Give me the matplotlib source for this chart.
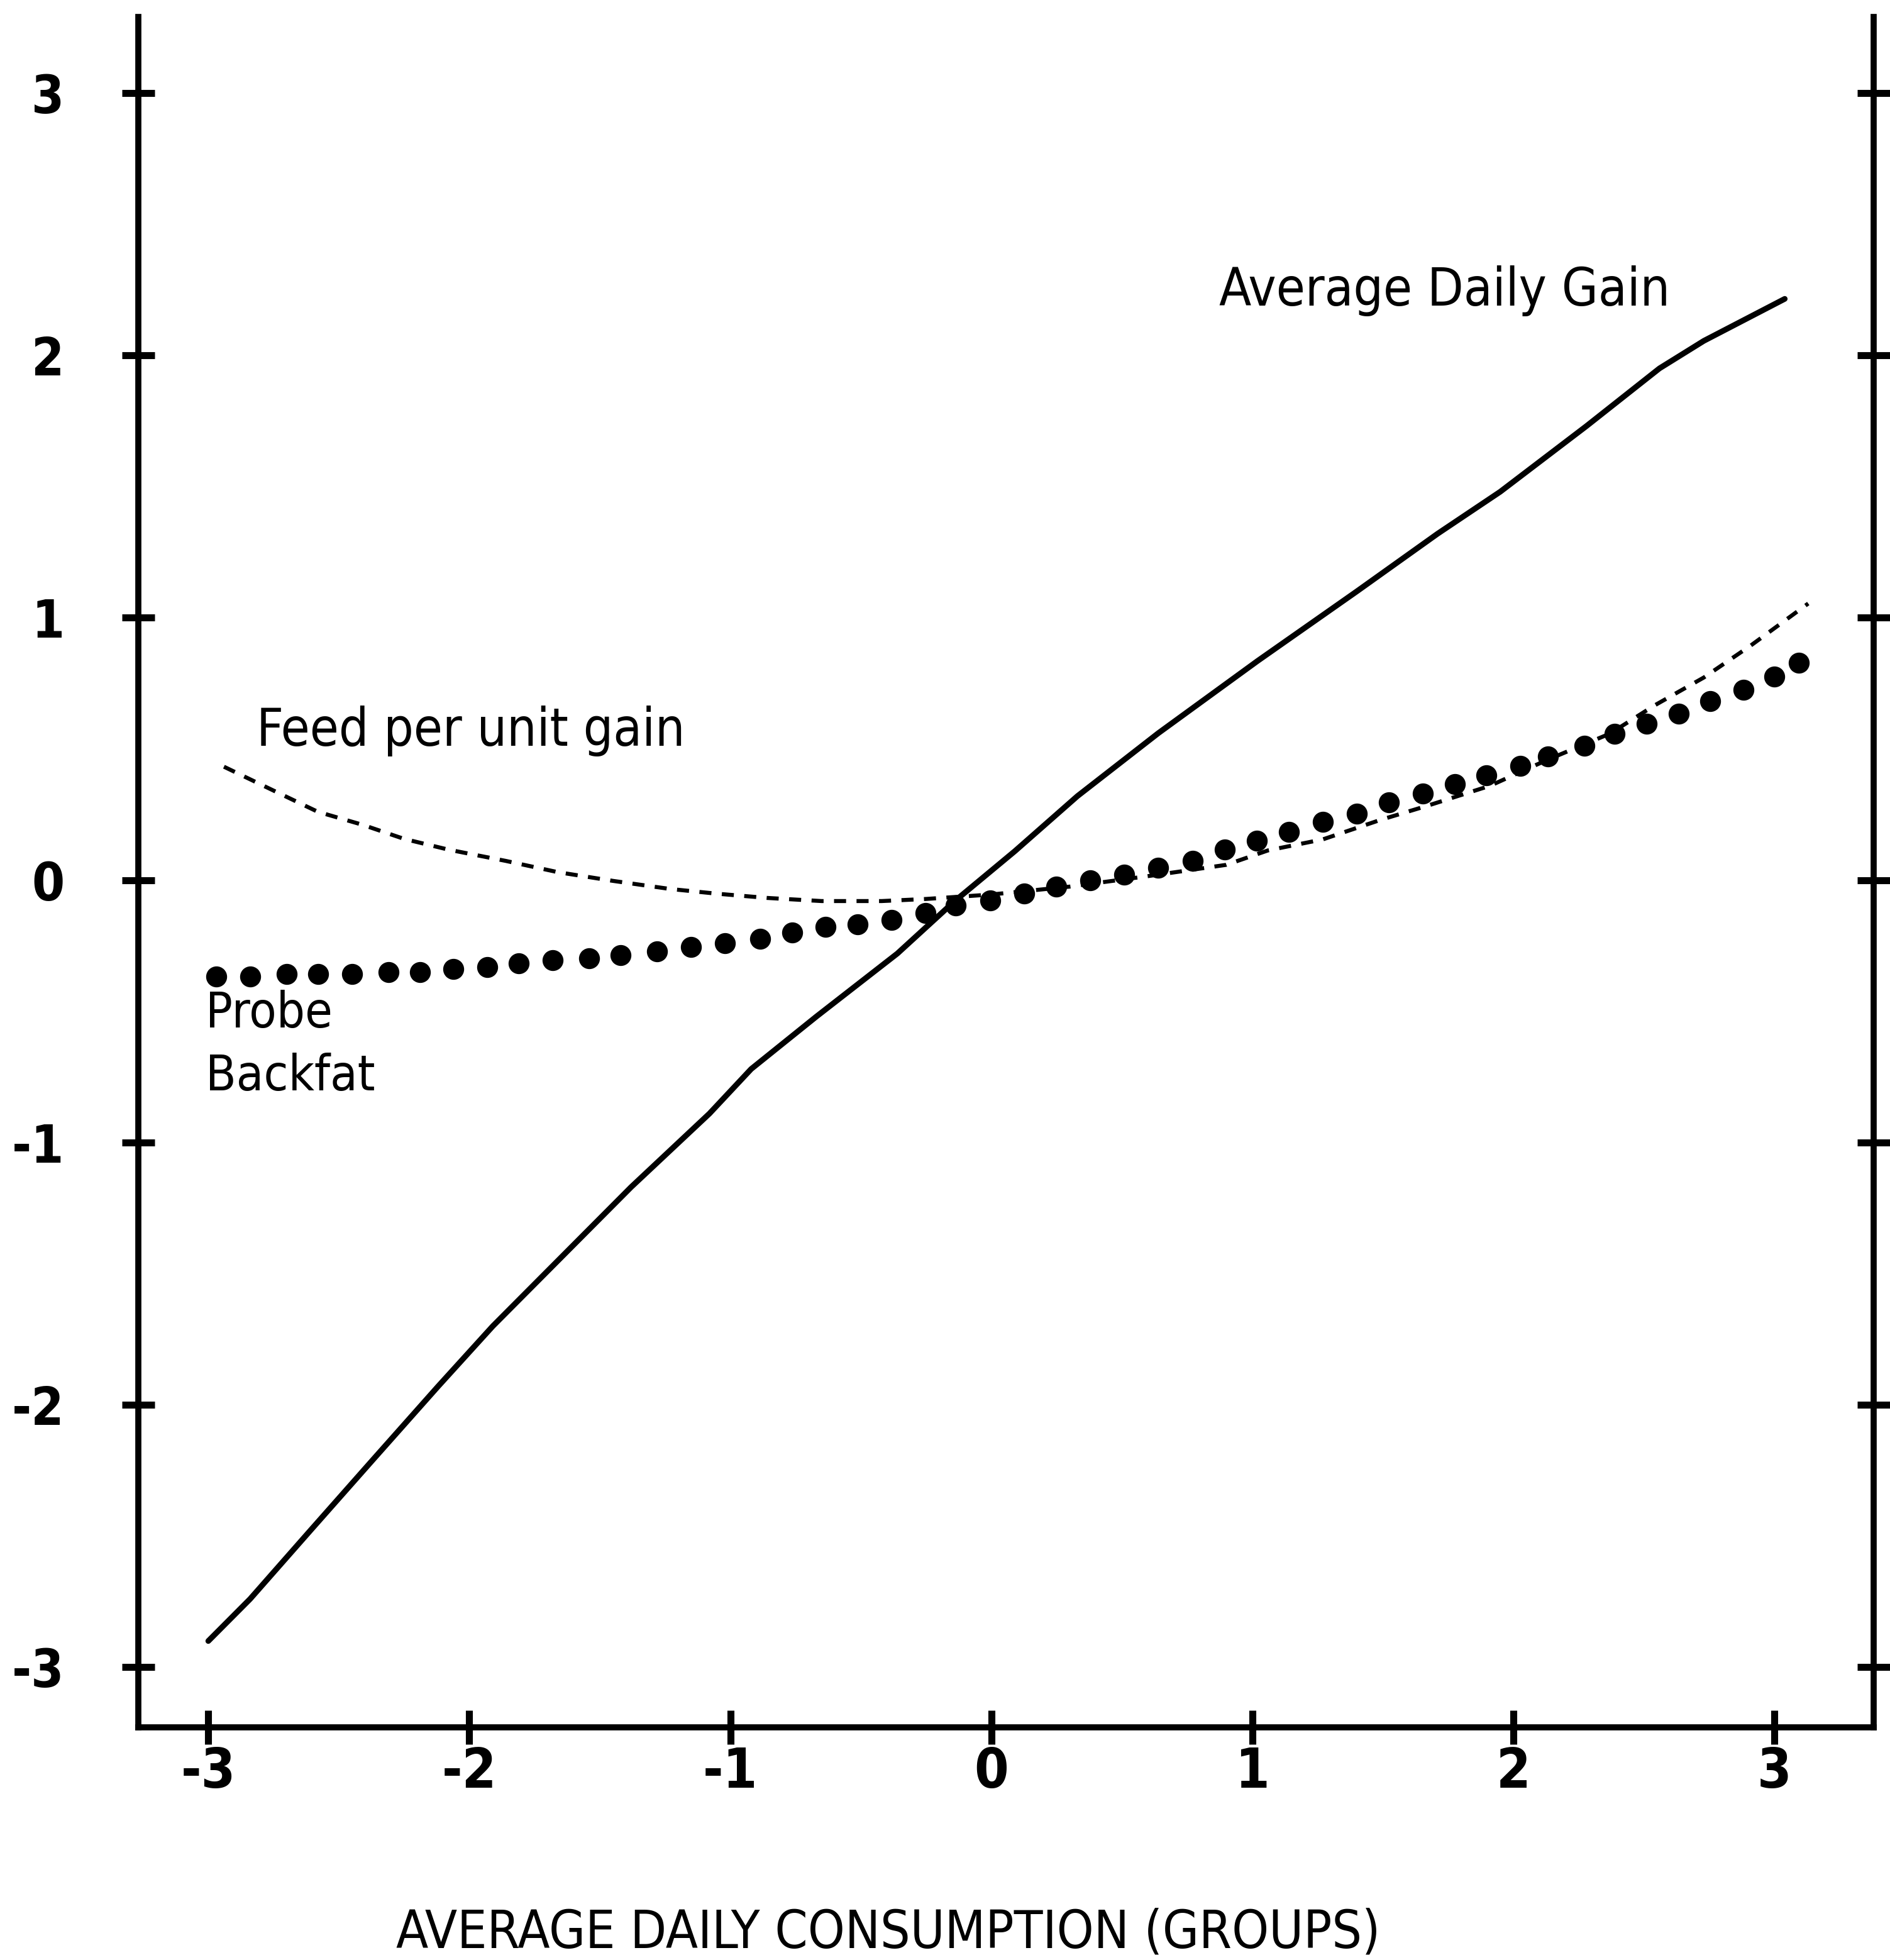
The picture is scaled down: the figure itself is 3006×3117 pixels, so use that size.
import matplotlib
matplotlib.use("Agg")
import matplotlib.pyplot as plt
import matplotlib.font_manager as fm

# ---- data ----
adg_x = [-3.0, -2.84, -2.61, -2.37, -2.12, -1.91, -1.69, -1.38, -1.08, -0.92, -0.67,
         -0.36, -0.14, 0.09, 0.33, 0.64, 1.02, 1.40, 1.71, 1.95, 2.28, 2.56, 2.73, 3.04]
adg_y = [-2.90, -2.74, -2.48, -2.21, -1.93, -1.70, -1.48, -1.17, -0.89, -0.72, -0.52,
         -0.28, -0.08, 0.11, 0.32, 0.56, 0.835, 1.10, 1.32, 1.48, 1.73, 1.95, 2.055, 2.215]

feed_x = [-2.94, -2.75, -2.58, -2.41, -2.25, -2.08, -1.86, -1.66, -1.45, -1.23, -1.05,
          -0.86, -0.65, -0.42, -0.25, 0.0, 0.3, 0.6, 0.90, 1.06, 1.27, 1.49, 1.67, 1.91,
          2.13, 2.37, 2.54, 2.73, 2.91, 3.13]
feed_y = [0.432, 0.341, 0.260, 0.211, 0.157, 0.116, 0.073, 0.030, -0.003, -0.034, -0.052,
          -0.068, -0.080, -0.080, -0.072, -0.055, -0.025, 0.015, 0.058, 0.113, 0.155, 0.229,
          0.283, 0.359, 0.458, 0.558, 0.665, 0.772, 0.894, 1.054]

fat_x = [-2.97, -2.84, -2.70, -2.58, -2.45, -2.31, -2.19, -2.06, -1.93, -1.81, -1.68,
         -1.54, -1.42, -1.28, -1.15, -1.02, -0.885, -0.763, -0.635, -0.512, -0.381, -0.251,
         -0.136, -0.005, 0.126, 0.249, 0.379, 0.510, 0.640, 0.771, 0.894, 1.017, 1.140,
         1.270, 1.401, 1.524, 1.654, 1.776, 1.896, 2.026, 2.134, 2.273, 2.388, 2.511,
         2.634, 2.754, 2.883, 2.999, 3.095]
fat_y = [-0.367, -0.367, -0.358, -0.358, -0.358, -0.352, -0.352, -0.340, -0.332, -0.317,
         -0.306, -0.297, -0.286, -0.271, -0.255, -0.240, -0.225, -0.199, -0.179, -0.168,
         -0.153, -0.126, -0.098, -0.077, -0.052, -0.026, 0.000, 0.020, 0.046, 0.073, 0.116,
         0.150, 0.183, 0.223, 0.254, 0.295, 0.330, 0.365, 0.400, 0.435, 0.471, 0.512, 0.558,
         0.596, 0.634, 0.683, 0.726, 0.776, 0.828]

tick_vals = [-3, -2, -1, 0, 1, 2, 3]
tick_labels = ["-3", "-2", "-1", "0", "1", "2", "3"]

series_labels = ["Average Daily Gain", "Feed per unit gain", "Probe", "Backfat"]
x_title = "AVERAGE DAILY CONSUMPTION (GROUPS)"


# ---- pick a narrow / condensed face if one is installed ----
def pick_font(bold):
    prefs = ["liberationsansnarrow", "dejavusanscondensed", "robotocondensed",
             "opensans_condensed", "opensanscondensed", "opensans-condensed",
             "notosans-condensed", "notosanscondensed", "arialnarrow"]
    cands = []
    for f in fm.fontManager.ttflist:
        fn = f.fname.lower().replace(" ", "").replace("_", "")
        nm = f.name.lower()
        if "italic" in fn or "oblique" in fn:
            continue
        isbold = ("bold" in fn) or (str(f.weight) in ("bold", "700"))
        if "semibold" in fn or "extrabold" in fn or "black" in fn or "light" in fn \
                or "thin" in fn or "medium" in fn or "extralight" in fn:
            continue
        if isbold != bold:
            continue
        base = fn.split("/")[-1]
        rank = None
        for i, p in enumerate(prefs):
            if p.replace("_", "").replace("-", "") in base.replace("-", ""):
                rank = i
                break
        if rank is None and ("narrow" in nm or "condensed" in nm or
                             f.stretch in ("condensed", "semi-condensed")):
            rank = len(prefs)
        if rank is not None:
            cands.append((rank, f.fname))
    if cands:
        cands.sort()
        return fm.FontProperties(fname=cands[0][1])
    return fm.FontProperties(family="DejaVu Sans",
                             weight="bold" if bold else "normal")


FP_REG = pick_font(False)
FP_BOLD = pick_font(True)


def fp(base, size):
    p = base.copy()
    p.set_size(size)
    return p


fig = plt.figure(figsize=(30.06, 31.17), dpi=100)
ax = fig.add_axes([0.0732, 0.1187, 0.9914 - 0.0732, 0.9913 - 0.1187])

ax.plot(adg_x, adg_y, color="black", lw=6.5, solid_capstyle="round",
        solid_joinstyle="round")
ax.plot(feed_x, feed_y, color="black", lw=4.6, dashes=(3.0, 2.6), dash_capstyle="butt")
ax.plot(fat_x, fat_y, linestyle="none", marker="o", markersize=23,
        markerfacecolor="black", markeredgecolor="black")

ax.set_xlim(-3.268, 3.381)
ax.set_ylim(-3.229, 3.289)

ax.spines["top"].set_visible(False)
for s in ("left", "right", "bottom"):
    ax.spines[s].set_linewidth(7)
    ax.spines[s].set_color("black")

ax.set_xticks(tick_vals)
ax.set_xticklabels(tick_labels)
ax.set_yticks(tick_vals)
ax.set_yticklabels(tick_labels)

ax.tick_params(axis="x", direction="inout", length=39, width=8, pad=2,
               bottom=True, top=False)
ax.tick_params(axis="y", direction="inout", length=37, width=8, pad=66,
               left=True, right=True, labelright=False)
for lab in ax.get_xticklabels():
    lab.set_fontproperties(fp(FP_BOLD, 63))
for lab in ax.get_yticklabels():
    lab.set_fontproperties(fp(FP_BOLD, 60))

ax.text(0.874, 2.189, series_labels[0], fontproperties=fp(FP_REG, 60),
        ha="left", va="baseline")
ax.text(-2.815, 0.511, series_labels[1], fontproperties=fp(FP_REG, 60),
        ha="left", va="baseline")
ax.text(-3.010, -0.562, series_labels[2], fontproperties=fp(FP_REG, 57),
        ha="left", va="baseline")
ax.text(-3.010, -0.802, series_labels[3], fontproperties=fp(FP_REG, 57),
        ha="left", va="baseline")

fig.text(0.4700, 20 / 3117, x_title, fontproperties=fp(FP_REG, 60),
         ha="center", va="baseline")

fig.savefig("out.png", dpi=100, facecolor="white")
